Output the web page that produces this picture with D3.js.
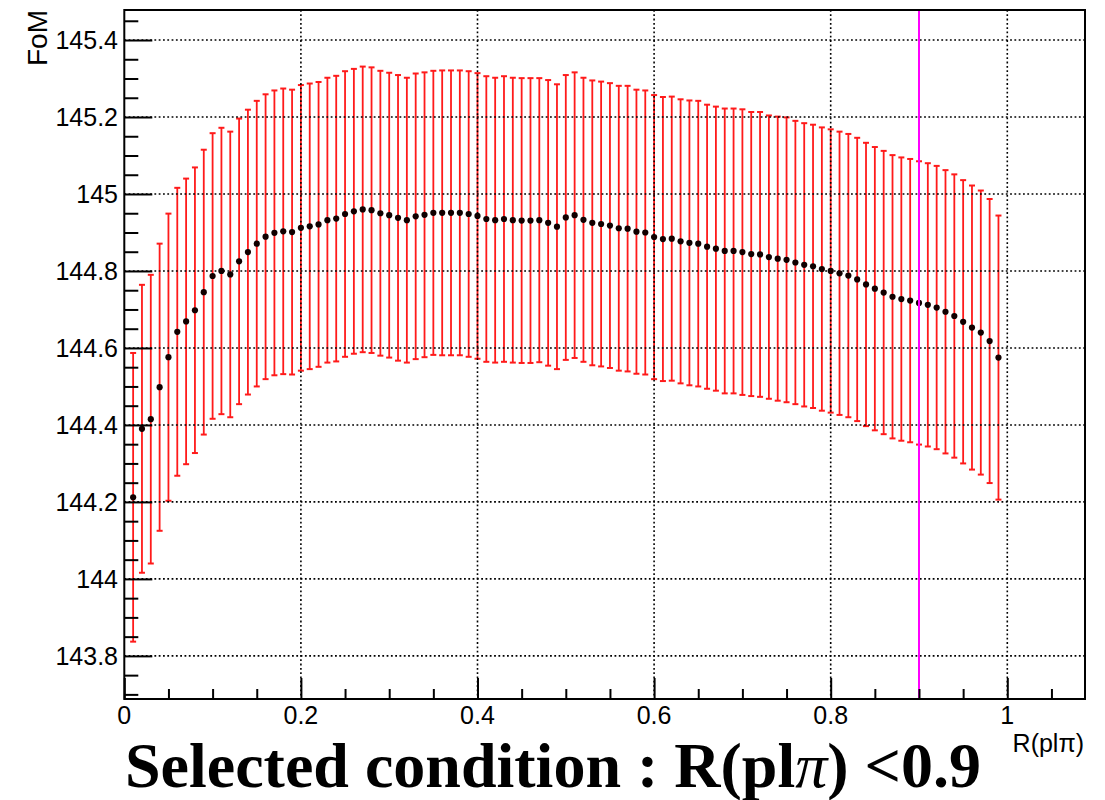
<!DOCTYPE html>
<html>
<head>
<meta charset="utf-8">
<script src="https://cdn.jsdelivr.net/npm/d3@7"></script>
<style>
  html, body { margin: 0; padding: 0; background: #fff; }
  svg { display: block; }
</style>
</head>
<body>
<svg id="chart" width="1105" height="800"></svg>
<script>
// ---- data ----
const rValues = [
  0.01,0.02,0.03,0.04,0.05,0.06,0.07,0.08,0.09,0.10,
  0.11,0.12,0.13,0.14,0.15,0.16,0.17,0.18,0.19,0.20,
  0.21,0.22,0.23,0.24,0.25,0.26,0.27,0.28,0.29,0.30,
  0.31,0.32,0.33,0.34,0.35,0.36,0.37,0.38,0.39,0.40,
  0.41,0.42,0.43,0.44,0.45,0.46,0.47,0.48,0.49,0.50,
  0.51,0.52,0.53,0.54,0.55,0.56,0.57,0.58,0.59,0.60,
  0.61,0.62,0.63,0.64,0.65,0.66,0.67,0.68,0.69,0.70,
  0.71,0.72,0.73,0.74,0.75,0.76,0.77,0.78,0.79,0.80,
  0.81,0.82,0.83,0.84,0.85,0.86,0.87,0.88,0.89,0.90,
  0.91,0.92,0.93,0.94,0.95,0.96,0.97,0.98,0.99
];
const fomValues = [
  144.212,144.390,144.415,144.498,144.576,144.642,144.669,144.698,144.745,144.787,
  144.800,144.791,144.825,144.849,144.871,144.889,144.899,144.903,144.901,144.912,
  144.916,144.921,144.932,144.936,144.948,144.955,144.960,144.958,144.950,144.945,
  144.938,144.932,144.942,144.946,144.951,144.951,144.951,144.951,144.948,144.943,
  144.935,144.932,144.935,144.932,144.931,144.931,144.932,144.925,144.915,144.939,
  144.945,144.933,144.925,144.922,144.918,144.911,144.910,144.902,144.900,144.888,
  144.883,144.884,144.877,144.873,144.871,144.863,144.858,144.852,144.852,144.849,
  144.844,144.843,144.836,144.832,144.829,144.822,144.816,144.812,144.805,144.800,
  144.794,144.788,144.778,144.765,144.754,144.744,144.733,144.727,144.723,144.717,
  144.712,144.705,144.694,144.683,144.668,144.653,144.640,144.618,144.575
];
const fomErrors = [
  0.375,0.374,0.375,0.373,0.373,0.374,0.371,0.371,0.370,0.371,
  0.372,0.371,0.371,0.370,0.371,0.370,0.370,0.371,0.370,0.371,
  0.371,0.370,0.370,0.371,0.371,0.370,0.371,0.371,0.370,0.370,
  0.371,0.370,0.371,0.370,0.369,0.370,0.370,0.370,0.371,0.371,
  0.371,0.370,0.371,0.370,0.370,0.370,0.369,0.371,0.370,0.370,
  0.371,0.369,0.370,0.370,0.370,0.370,0.371,0.369,0.369,0.369,
  0.369,0.369,0.369,0.370,0.371,0.369,0.369,0.370,0.370,0.371,
  0.369,0.370,0.368,0.369,0.370,0.368,0.368,0.368,0.368,0.368,
  0.368,0.368,0.368,0.368,0.368,0.368,0.368,0.368,0.368,0.368,
  0.368,0.368,0.368,0.368,0.368,0.369,0.369,0.369,0.369
];
const xMajorTicks = [0, 0.2, 0.4, 0.6, 0.8, 1];
const xTickLabels = ["0", "0.2", "0.4", "0.6", "0.8", "1"];
const yMajorTicks = [143.8, 144, 144.2, 144.4, 144.6, 144.8, 145, 145.2, 145.4];
const yTickLabels = ["143.8", "144", "144.2", "144.4", "144.6", "144.8", "145", "145.2", "145.4"];
const cutValue = 0.9;
const xDomain = [0, 1.088];
const yDomain = [143.688, 145.478];
const yAxisTitle = "FoM";
const xAxisTitleMain = "R(pl";
const xAxisTitlePi = "\u03c0";
const titleParts = ["Selected condition : R(pl", "\u03c0", ") <0.9"];

// ---- layout ----
const L = 124.3, R = 1085, T = 10, B = 699;
const svg = d3.select("#chart");
const x = d3.scaleLinear().domain(xDomain).range([L, R]);
const y = d3.scaleLinear().domain(yDomain).range([B, T]);

const data = rValues.map((r, i) => ({ r, v: fomValues[i], e: fomErrors[i] }));

// error bars
const eb = svg.append("g").attr("stroke", "#ff1a1a").attr("stroke-width", 1.8);
eb.selectAll("line.bar").data(data).join("line").attr("class", "bar")
  .attr("x1", d => x(d.r)).attr("x2", d => x(d.r))
  .attr("y1", d => y(d.v - d.e)).attr("y2", d => y(d.v + d.e));
eb.selectAll("line.capt").data(data).join("line").attr("class", "capt")
  .attr("x1", d => x(d.r) - 3).attr("x2", d => x(d.r) + 3)
  .attr("y1", d => y(d.v + d.e)).attr("y2", d => y(d.v + d.e)).attr("stroke-width", 2);
eb.selectAll("line.capb").data(data).join("line").attr("class", "capb")
  .attr("x1", d => x(d.r) - 3).attr("x2", d => x(d.r) + 3)
  .attr("y1", d => y(d.v - d.e)).attr("y2", d => y(d.v - d.e)).attr("stroke-width", 2);

// grid (dotted)
const grid = svg.append("g").attr("stroke", "#000").attr("stroke-width", 1.6)
  .attr("stroke-dasharray", "1.8,2.5");
grid.selectAll("line.gx").data(xMajorTicks.filter(t => t > 0)).join("line")
  .attr("x1", d => x(d)).attr("x2", d => x(d)).attr("y1", T).attr("y2", B);
grid.selectAll("line.gy").data(yMajorTicks).join("line")
  .attr("x1", L).attr("x2", R).attr("y1", d => y(d)).attr("y2", d => y(d));

// points
svg.append("g").selectAll("circle").data(data).join("circle")
  .attr("cx", d => x(d.r)).attr("cy", d => y(d.v)).attr("r", 3.1)
  .attr("fill", "#110000");

// cut line
svg.append("line").attr("x1", x(cutValue)).attr("x2", x(cutValue))
  .attr("y1", T).attr("y2", B).attr("stroke", "#ff00ff").attr("stroke-width", 2);

// axes (ROOT style ticks inside)
const xAxis = d3.axisBottom(x).tickValues(d3.range(0, 1.0881, 0.05)).tickFormat("")
  .tickSizeInner(-10).tickSizeOuter(0);
const gx = svg.append("g").attr("transform", `translate(0,${B})`).call(xAxis);
gx.selectAll(".tick line").attr("stroke-width", 2)
  .attr("y2", d => (Math.abs(d / 0.2 - Math.round(d / 0.2)) < 1e-6) ? -21 : -10);
gx.select(".domain").remove();

const yAxis = d3.axisLeft(y).tickValues(d3.range(143.7, 145.4751, 0.05)).tickFormat("")
  .tickSizeInner(-14).tickSizeOuter(0);
const gy = svg.append("g").attr("transform", `translate(${L},0)`).call(yAxis);
gy.selectAll(".tick line").attr("stroke-width", 2)
  .attr("x2", d => yMajorTicks.some(t => Math.abs(t - d) < 1e-6) ? 28 : 14);
gy.select(".domain").remove();

// frame
svg.append("rect").attr("x", L).attr("y", T).attr("width", R - L).attr("height", B - T)
  .attr("fill", "none").attr("stroke", "#000").attr("stroke-width", 2);

// tick labels
const lf = "'Liberation Sans', Arial, Helvetica, sans-serif";
svg.append("g").selectAll("text").data(xMajorTicks).join("text")
  .attr("x", d => x(d)).attr("y", 724).attr("text-anchor", "middle")
  .attr("font-family", lf).attr("font-size", 25).text((d, i) => xTickLabels[i]);
svg.append("g").selectAll("text").data(yMajorTicks).join("text")
  .attr("x", 118).attr("y", d => y(d) + 9).attr("text-anchor", "end")
  .attr("font-family", lf).attr("font-size", 25).text((d, i) => yTickLabels[i]);

// axis titles
svg.append("text").attr("transform", "translate(47,10) rotate(-90)")
  .attr("text-anchor", "end").attr("font-family", lf).attr("font-size", 28).text(yAxisTitle);
const xt = svg.append("text").attr("x", 1084).attr("y", 752).attr("text-anchor", "end")
  .attr("font-family", lf).attr("font-size", 25);
xt.append("tspan").text(xAxisTitleMain);
xt.append("tspan").text(xAxisTitlePi);
xt.append("tspan").text(")");

// title
const tt = svg.append("text").attr("x", 125).attr("y", 787)
  .attr("font-family", "'Liberation Serif', 'Times New Roman', serif")
  .attr("font-weight", "bold").attr("font-size", 64);
tt.append("tspan").text(titleParts[0]);
tt.append("tspan").attr("font-style", "italic").attr("font-weight", "normal").text(titleParts[1]);
tt.append("tspan").text(titleParts[2]);
</script>
</body>
</html>
